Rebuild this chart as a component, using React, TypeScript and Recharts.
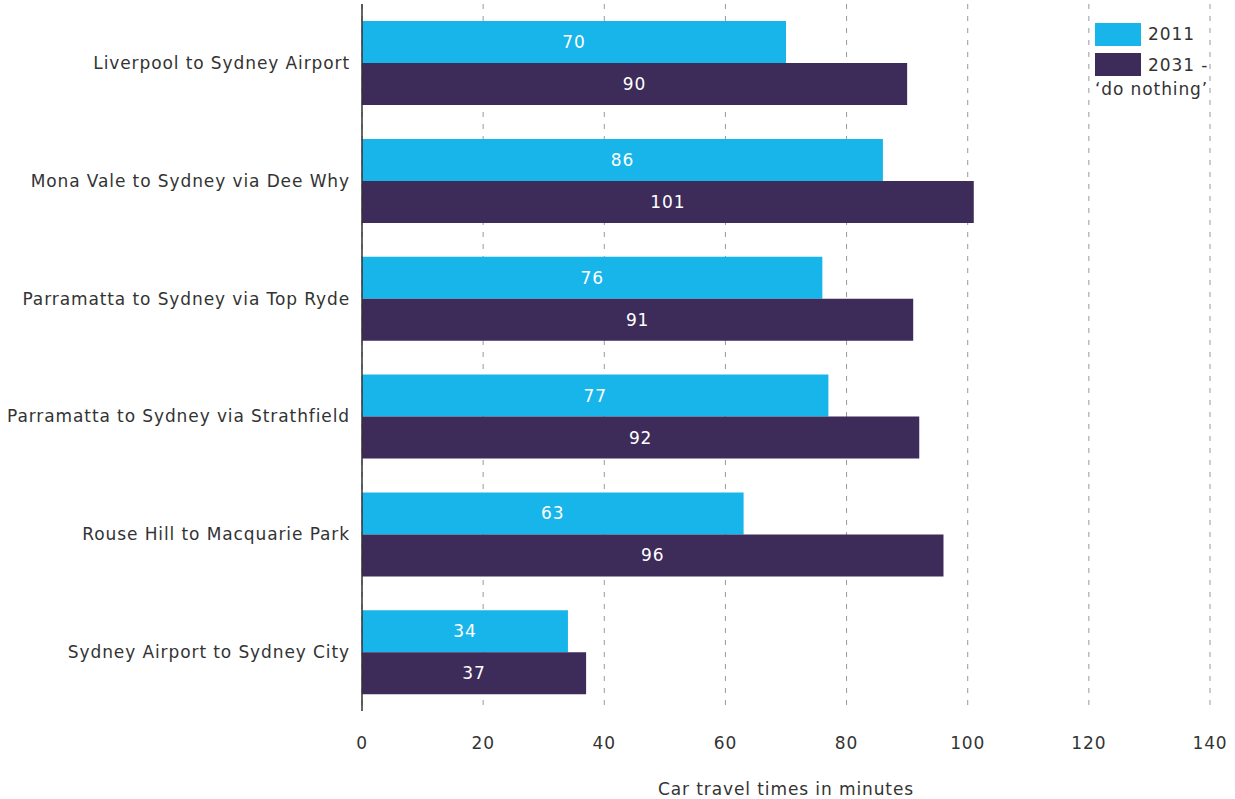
import React from "react";
import {
    BarChart,
    Bar,
    XAxis,
    YAxis,
    CartesianGrid,
    Legend,
    LabelList,
} from "recharts";

const routes = [
    "Liverpool to Sydney Airport",
    "Mona Vale to Sydney via Dee Why",
    "Parramatta to Sydney via Top Ryde",
    "Parramatta to Sydney via Strathfield",
    "Rouse Hill to Macquarie Park",
    "Sydney Airport to Sydney City",
];
const times2011 = [70, 86, 76, 77, 63, 34];
const times2031 = [90, 101, 91, 92, 96, 37];
const xTicks = [0, 20, 40, 60, 80, 100, 120, 140];
const seriesNames = ["2011", "2031 - \u2018do nothing\u2019"];

const data = routes.map((r, i) => ({
    route: r,
    y2011: times2011[i],
    y2031: times2031[i],
}));

const CYAN = "#17B5EA";
const PURPLE = "#3D2B5A";
const FONT = "'DejaVu Sans', sans-serif";

const LegendBox = () => (
    <div style={{ fontFamily: FONT, fontSize: 17, color: "#333", width: 120, lineHeight: "24px", letterSpacing: 0.9 }}>
        <div style={{ display: "flex", alignItems: "center", marginBottom: 7 }}>
            <span style={{ width: 46, height: 23, background: CYAN, marginRight: 7, display: "inline-block" }} />
            <span>{seriesNames[0]}</span>
        </div>
        <div>
            <span style={{ width: 46, height: 23, background: PURPLE, marginRight: 7, float: "left" }} />
            <span>{seriesNames[1]}</span>
        </div>
    </div>
);

export default function App() {
    return (
        <>
            <style>{`body { margin: 0; } .recharts-text { letter-spacing: 0.9px; }`}</style>
            <BarChart
                width={1235}
                height={799}
                data={data}
                layout="vertical"
                margin={{ top: 4, right: 25, bottom: 0, left: 0 }}
                barCategoryGap="14.5%"
                barGap={0}
            >
                <CartesianGrid horizontal={false} stroke="#999" strokeDasharray="5 7" />
                <XAxis
                    type="number"
                    domain={[0, 140]}
                    ticks={xTicks}
                    axisLine={false}
                    tickLine={false}
                    tickSize={0}
                    tickMargin={26}
                    height={88}
                    tick={{ fill: "#333", fontSize: 17, fontFamily: FONT }}
                    label={{
                        value: "Car travel times in minutes",
                        position: "insideBottom",
                        offset: 4,
                        fill: "#333",
                        fontSize: 17,
                        fontFamily: FONT,
                    }}
                />
                <YAxis
                    type="category"
                    dataKey="route"
                    width={362}
                    axisLine={{ stroke: "#333", strokeWidth: 1.5 }}
                    tickLine={false}
                    tickSize={0}
                    tickMargin={12}
                    tick={{ fill: "#333", fontSize: 17, fontFamily: FONT }}
                />
                <Legend
                    layout="vertical"
                    align="center"
                    verticalAlign="middle"
                    content={() => <LegendBox />}
                    wrapperStyle={{ position: "absolute", top: 22, left: 1095, width: 120 }}
                />
                <Bar dataKey="y2011" fill={CYAN} isAnimationActive={false}>
                    <LabelList dataKey="y2011" position="center" fill="#fff" fontSize={17} fontFamily={FONT} />
                </Bar>
                <Bar dataKey="y2031" fill={PURPLE} isAnimationActive={false}>
                    <LabelList dataKey="y2031" position="center" fill="#fff" fontSize={17} fontFamily={FONT} />
                </Bar>
            </BarChart>
        </>
    );
}
